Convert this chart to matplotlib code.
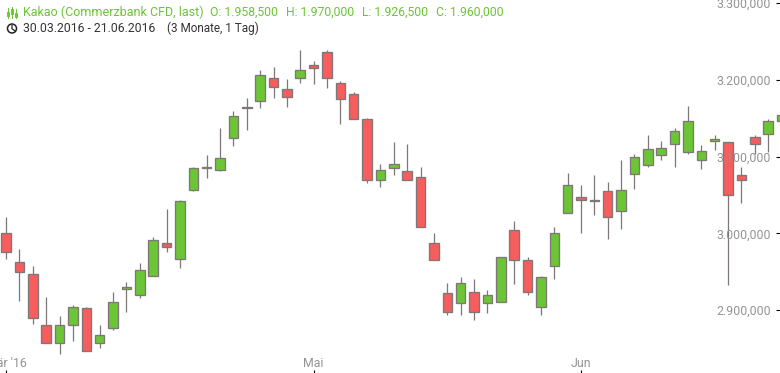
import matplotlib
matplotlib.use('Agg')
import matplotlib.pyplot as plt
from matplotlib.patches import Circle, Rectangle
from matplotlib.lines import Line2D

# prices in thousands, one candle per trading day
opens = [3000, 2962, 2947, 2881, 2857, 2881, 2902, 2857, 2876, 2928,
         2919, 2944, 2988, 2967, 3056, 3085, 3083, 3124, 3163, 3172,
         3203, 3188, 3202, 3219, 3237, 3196, 3181, 3149, 3069, 3085,
         3081, 3073, 2987, 2922, 2909, 2923, 2909, 2911, 3004, 2965,
         2904, 2958, 3027, 3047, 3042, 3055, 3029, 3077, 3089, 3102,
         3117, 3106, 3096, 3120, 3119, 3076, 3126, 3129, 3147]
highs = [3021, 2979, 2958, 2917, 2892, 2906, 2904, 2881, 2923, 2936,
         2961, 2995, 3032, 3044, 3086, 3102, 3137, 3159, 3176, 3213,
         3217, 3201, 3239, 3225, 3239, 3198, 3184, 3150, 3091, 3119,
         3117, 3086, 3001, 2935, 2943, 2940, 2926, 2969, 3016, 2969,
         2944, 3008, 3079, 3063, 3076, 3067, 3095, 3103, 3128, 3120,
         3137, 3166, 3115, 3128, 3119, 3087, 3128, 3149, 3157]
lows = [2967, 2912, 2882, 2857, 2843, 2859, 2846, 2850, 2874, 2898,
        2916, 2944, 2976, 2955, 3055, 3072, 3081, 3114, 3135, 3164,
        3177, 3165, 3196, 3195, 3190, 3142, 3149, 3066, 3061, 3076,
        3069, 3008, 2965, 2893, 2893, 2887, 2896, 2911, 2934, 2920,
        2894, 2941, 3026, 3000, 3024, 2993, 3005, 3058, 3087, 3095,
        3087, 3104, 3084, 3109, 2933, 3040, 3104, 3106, 3147]
closes = [2976, 2950, 2889, 2857, 2881, 2904, 2846, 2867, 2910, 2930,
          2952, 2991, 2982, 3042, 3085, 3087, 3098, 3153, 3165, 3207,
          3191, 3178, 3213, 3215, 3203, 3175, 3149, 3069, 3082, 3091,
          3069, 3008, 2965, 2897, 2935, 2897, 2919, 2969, 2965, 2923,
          2943, 3000, 3063, 3044, 3044, 3021, 3056, 3099, 3110, 3111,
          3134, 3147, 3107, 3123, 3050, 3070, 3116, 3146, 3154]
y_ticks = [2900, 3000, 3100, 3200, 3300]
y_labels = ['2.900,000', '3.000,000', '3.100,000', '3.200,000', '3.300,000']
x_ticks = [0, 23, 43]
x_labels = ["Mär '16", 'Mai', 'Jun']

plt.rcParams['font.family'] = ['Roboto', 'DejaVu Sans']
green = '#6cc535'
red = '#f75d5d'
edge = '#7f7777'
grey = '#949494'

fig = plt.figure(figsize=(7.8, 3.73), dpi=100)
ax = fig.add_axes([0, 0, 1, 1])

for i in range(len(opens)):
    c = green if closes[i] >= opens[i] else red
    ax.plot([i, i], [lows[i], highs[i]], color=edge, lw=0.9, zorder=1,
            solid_capstyle='butt')
    ax.bar(i, abs(closes[i] - opens[i]), bottom=min(opens[i], closes[i]),
           width=0.71, color=c, edgecolor=edge, linewidth=0.95, zorder=2)

ax.set_xlim(-6.1 / 13.37, (780 - 6.1) / 13.37)
ax.set_ylim(3000 + (233.3 - 373) * 1.304, 3000 + 233.3 * 1.304)
for s in ax.spines.values():
    s.set_visible(False)

ax.yaxis.tick_right()
ax.set_yticks(y_ticks)
ax.set_yticklabels(y_labels, ha='right')
ax.set_xticks(x_ticks)
ax.set_xticklabels(x_labels, va='bottom')
ax.tick_params(axis='y', direction='in', length=3.2, width=0.8, color='black',
               pad=-6.5, labelsize=8.9, labelcolor=grey)
ax.tick_params(axis='x', direction='in', length=2.2, width=0.8, color='black',
               pad=-2.5, labelsize=8.9, labelcolor=grey)
ax.set_axisbelow(False)


def px(x, y):
    return x / 780, 1 - y / 373


# header text
fig.text(*px(23, 12.5), 'Kakao (Commerzbank CFD, last)', color=green,
         fontsize=9.0, va='center')
fig.text(*px(210.5, 12.5), 'O: 1.958,500', color=green, fontsize=8.8, va='center')
fig.text(*px(286, 12.5), 'H: 1.970,000', color=green, fontsize=8.8, va='center')
fig.text(*px(362.5, 12.5), 'L: 1.926,500', color=green, fontsize=8.8, va='center')
fig.text(*px(436.5, 12.5), 'C: 1.960,000', color=green, fontsize=8.8, va='center')
fig.text(*px(23, 28.5), '30.03.2016 - 21.06.2016', color='#333333',
         fontsize=8.85, va='center')
fig.text(*px(167, 28.5), '(3 Monate, 1 Tag)', color='#333333',
         fontsize=8.5, va='center')

# candle icon in the header
for x, y0, y1, b0, b1 in [(8, 8, 18, 12, 16), (12, 7, 18, 9, 14), (16, 9, 18, 13, 17)]:
    fig.add_artist(Line2D([x / 780, x / 780], [1 - y0 / 373, 1 - y1 / 373],
                          color=green, lw=0.7))
    fig.add_artist(Rectangle(px(x - 1, b1), 2 / 780, (b1 - b0) / 373, fill=False,
                             edgecolor=green, lw=0.7, transform=fig.transFigure))

# clock icon
fig.add_artist(Circle((12, 373 - 28.5), 4.5, fill=False, edgecolor='#222222', lw=1.1,
                      transform=None))
fig.add_artist(Line2D([12, 12, 14.5], [373 - 25.5, 373 - 28.8, 373 - 30.5],
                      color='#222222', lw=0.9, transform=None))

fig.savefig('out.png', dpi=100)
